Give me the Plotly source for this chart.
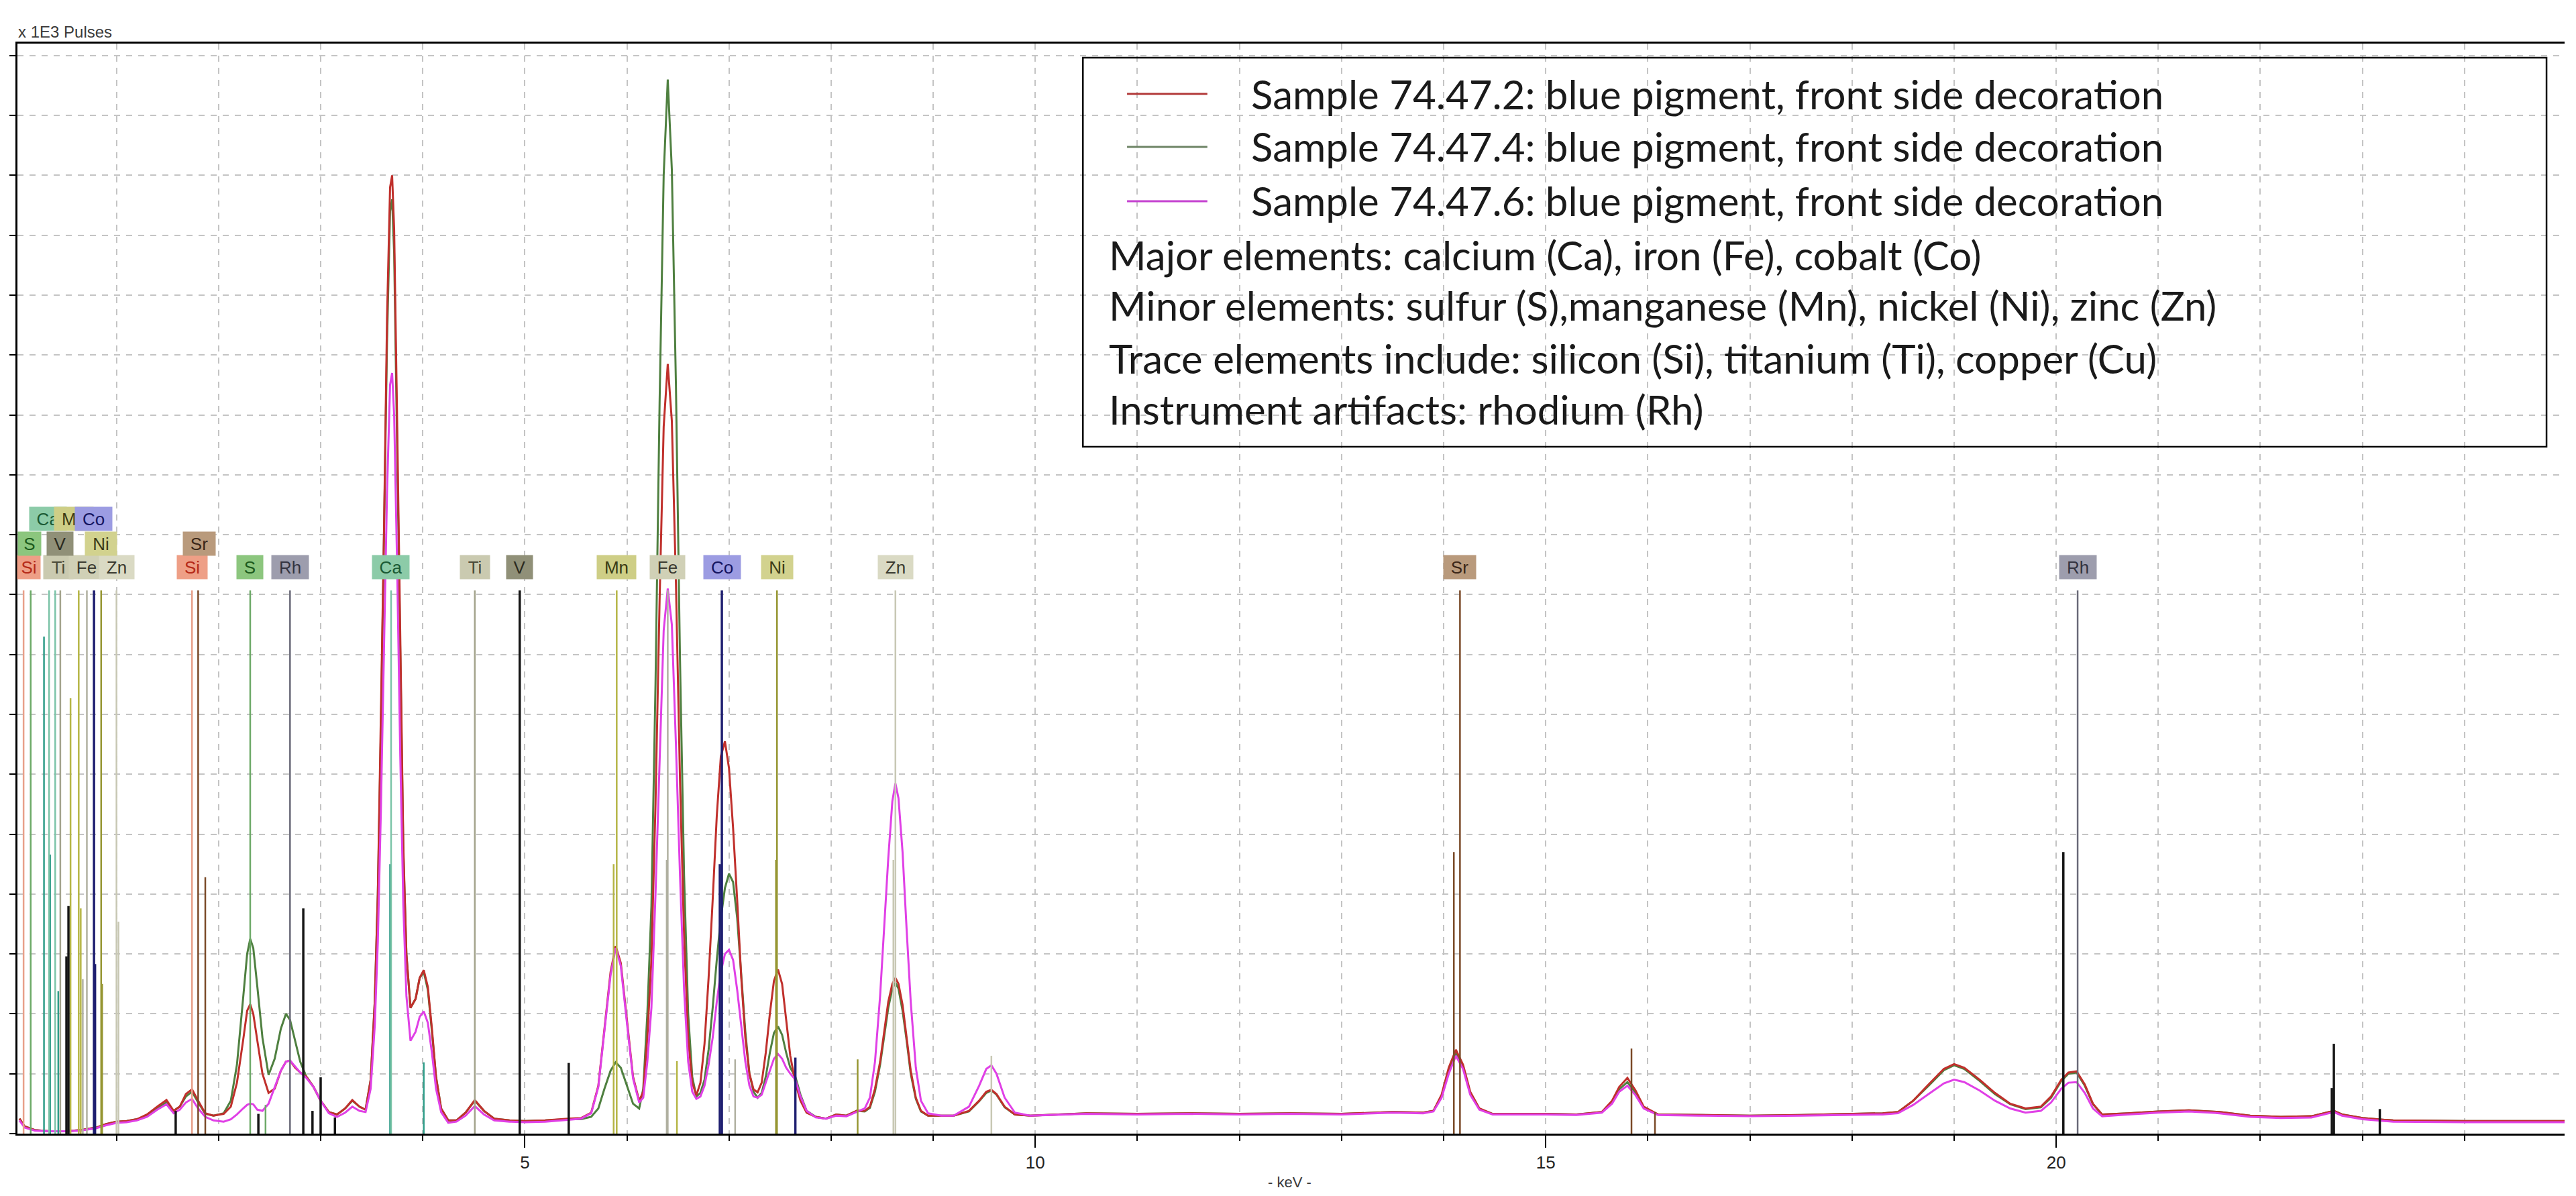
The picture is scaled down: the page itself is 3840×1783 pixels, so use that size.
import plotly.graph_objects as go

# ---------------- data ----------------
# energy axis in keV, intensity in x 1E3 pulses (grid units)
energy_keV = [0.05, 0.10, 0.20, 0.35, 0.50, 0.65, 0.80, 0.90, 1.00, 1.10, 1.20, 1.30, 1.40, 1.49, 1.56, 1.62, 1.68, 1.74, 1.80, 1.87,
              1.95, 2.05, 2.12, 2.18, 2.24, 2.28, 2.31, 2.34, 2.38, 2.43, 2.49, 2.55, 2.61, 2.66, 2.70, 2.75, 2.80, 2.86, 2.93, 3.00,
              3.08, 3.16, 3.24, 3.31, 3.38, 3.44, 3.49, 3.53, 3.56, 3.59, 3.62, 3.65, 3.68, 3.70, 3.72, 3.75, 3.78, 3.81, 3.84, 3.88,
              3.93, 3.97, 4.01, 4.05, 4.09, 4.13, 4.18, 4.25, 4.33, 4.42, 4.51, 4.60, 4.70, 4.85, 5.00, 5.20, 5.42, 5.55, 5.65, 5.72,
              5.78, 5.84, 5.89, 5.94, 6.00, 6.06, 6.12, 6.16, 6.20, 6.24, 6.28, 6.32, 6.36, 6.40, 6.44, 6.48, 6.52, 6.56, 6.60, 6.64,
              6.68, 6.72, 6.76, 6.80, 6.84, 6.88, 6.92, 6.96, 7.00, 7.04, 7.08, 7.12, 7.16, 7.20, 7.24, 7.28, 7.32, 7.36, 7.40, 7.44,
              7.48, 7.52, 7.56, 7.60, 7.65, 7.70, 7.76, 7.85, 7.95, 8.05, 8.15, 8.25, 8.33, 8.38, 8.43, 8.48, 8.52, 8.56, 8.60, 8.63,
              8.66, 8.70, 8.74, 8.78, 8.83, 8.88, 8.95, 9.08, 9.20, 9.35, 9.45, 9.52, 9.57, 9.62, 9.70, 9.80, 9.95, 10.5, 11.0, 11.5,
              12.0, 12.5, 13.0, 13.5, 13.8, 13.90, 13.98, 14.05, 14.12, 14.19, 14.26, 14.35, 14.48, 15.0, 15.3, 15.55, 15.65, 15.72, 15.80, 15.88,
              15.96, 16.10, 16.5, 17.0, 17.5, 18.0, 18.3, 18.45, 18.60, 18.75, 18.90, 19.00, 19.10, 19.25, 19.40, 19.55, 19.70, 19.85, 19.95, 20.05,
              20.12, 20.20, 20.28, 20.36, 20.45, 20.7, 21.0, 21.3, 21.6, 21.9, 22.2, 22.5, 22.65, 22.72, 22.8, 23.0, 23.3, 24.0, 25.0]

sample_74_47_2 = [0.25, 0.12, 0.06, 0.04, 0.04, 0.06, 0.10, 0.16, 0.20, 0.21, 0.24, 0.32, 0.45, 0.56, 0.38, 0.45, 0.66, 0.74, 0.55, 0.34,
                  0.30, 0.33, 0.45, 0.85, 1.55, 2.05, 2.16, 2.00, 1.55, 1.00, 0.68, 0.75, 1.05, 1.20, 1.22, 1.10, 1.02, 0.95, 0.78, 0.55,
                  0.36, 0.32, 0.42, 0.56, 0.45, 0.40, 0.90, 2.20, 4.00, 6.80, 10.0, 13.6, 15.8, 16.0, 15.1, 11.8, 8.00, 4.80, 3.00, 2.10,
                  2.25, 2.60, 2.73, 2.45, 1.75, 0.95, 0.42, 0.22, 0.22, 0.35, 0.56, 0.38, 0.25, 0.22, 0.21, 0.22, 0.25, 0.26, 0.35, 0.80,
                  1.75, 2.70, 3.13, 2.85, 1.90, 0.95, 0.55, 0.70, 1.60, 2.90, 5.50, 8.90, 11.8, 12.85, 11.9, 9.20, 5.90, 3.30, 1.60, 0.85,
                  0.64, 0.85, 1.50, 2.60, 3.90, 5.30, 6.30, 6.55, 6.10, 5.10, 3.90, 2.60, 1.60, 1.00, 0.74, 0.69, 0.85, 1.35, 2.00, 2.55,
                  2.74, 2.50, 1.90, 1.30, 0.85, 0.55, 0.35, 0.28, 0.25, 0.32, 0.30, 0.38, 0.38, 0.45, 0.75, 1.20, 1.70, 2.20, 2.50, 2.60,
                  2.50, 2.15, 1.60, 1.05, 0.60, 0.38, 0.30, 0.30, 0.30, 0.38, 0.55, 0.70, 0.73, 0.66, 0.45, 0.32, 0.30, 0.34, 0.33, 0.34,
                  0.33, 0.34, 0.33, 0.36, 0.35, 0.38, 0.65, 1.10, 1.40, 1.15, 0.70, 0.42, 0.33, 0.33, 0.32, 0.36, 0.55, 0.78, 0.93, 0.72,
                  0.45, 0.32, 0.31, 0.30, 0.31, 0.33, 0.34, 0.36, 0.55, 0.82, 1.08, 1.16, 1.10, 0.90, 0.68, 0.50, 0.42, 0.45, 0.62, 0.90,
                  1.02, 1.04, 0.82, 0.50, 0.32, 0.34, 0.37, 0.39, 0.36, 0.30, 0.28, 0.29, 0.35, 0.38, 0.32, 0.26, 0.22, 0.21, 0.21]

sample_74_47_4 = [0.25, 0.12, 0.06, 0.04, 0.04, 0.06, 0.10, 0.16, 0.20, 0.21, 0.24, 0.30, 0.42, 0.52, 0.38, 0.45, 0.62, 0.70, 0.52, 0.33,
                  0.30, 0.34, 0.55, 1.15, 2.25, 3.00, 3.25, 3.10, 2.45, 1.60, 0.98, 1.25, 1.75, 2.00, 1.90, 1.55, 1.20, 0.95, 0.78, 0.55,
                  0.36, 0.32, 0.42, 0.55, 0.45, 0.40, 0.90, 2.20, 4.00, 6.70, 9.80, 13.2, 15.4, 15.6, 14.7, 11.5, 7.80, 4.70, 3.00, 2.10,
                  2.25, 2.60, 2.70, 2.40, 1.70, 0.95, 0.42, 0.22, 0.22, 0.35, 0.55, 0.38, 0.25, 0.22, 0.21, 0.22, 0.24, 0.24, 0.28, 0.42,
                  0.75, 1.05, 1.19, 1.10, 0.80, 0.50, 0.42, 0.75, 2.00, 3.80, 7.50, 12.2, 16.0, 17.6, 16.1, 12.5, 7.90, 4.30, 2.00, 0.95,
                  0.62, 0.68, 0.90, 1.40, 2.10, 2.90, 3.60, 4.10, 4.34, 4.20, 3.60, 2.70, 1.70, 1.00, 0.70, 0.60, 0.68, 0.95, 1.35, 1.68,
                  1.79, 1.65, 1.35, 1.10, 0.95, 0.65, 0.38, 0.28, 0.25, 0.32, 0.30, 0.38, 0.37, 0.43, 0.70, 1.15, 1.62, 2.10, 2.42, 2.52,
                  2.42, 2.05, 1.55, 1.00, 0.58, 0.37, 0.30, 0.30, 0.30, 0.37, 0.54, 0.68, 0.72, 0.65, 0.44, 0.32, 0.30, 0.34, 0.33, 0.34,
                  0.33, 0.34, 0.33, 0.36, 0.35, 0.38, 0.63, 1.05, 1.35, 1.12, 0.68, 0.41, 0.33, 0.33, 0.32, 0.36, 0.53, 0.74, 0.86, 0.68,
                  0.43, 0.32, 0.31, 0.30, 0.31, 0.33, 0.34, 0.36, 0.55, 0.80, 1.06, 1.14, 1.08, 0.88, 0.66, 0.49, 0.41, 0.44, 0.60, 0.88,
                  1.00, 1.02, 0.80, 0.49, 0.32, 0.34, 0.37, 0.39, 0.36, 0.30, 0.28, 0.29, 0.35, 0.38, 0.32, 0.26, 0.22, 0.21, 0.21]

sample_74_47_6 = [0.22, 0.10, 0.05, 0.04, 0.04, 0.05, 0.09, 0.14, 0.18, 0.19, 0.22, 0.28, 0.40, 0.49, 0.34, 0.40, 0.52, 0.58, 0.42, 0.28,
                  0.22, 0.20, 0.24, 0.32, 0.42, 0.48, 0.50, 0.49, 0.40, 0.38, 0.50, 0.78, 1.05, 1.20, 1.22, 1.12, 1.02, 0.93, 0.78, 0.55,
                  0.34, 0.28, 0.35, 0.45, 0.38, 0.36, 0.75, 1.80, 3.20, 5.40, 7.90, 10.7, 12.5, 12.7, 12.0, 9.40, 6.30, 3.80, 2.30, 1.55,
                  1.70, 1.95, 2.04, 1.85, 1.35, 0.75, 0.36, 0.18, 0.20, 0.30, 0.46, 0.32, 0.22, 0.20, 0.19, 0.20, 0.23, 0.25, 0.34, 0.78,
                  1.72, 2.65, 3.10, 2.80, 1.85, 0.92, 0.52, 0.60, 1.20, 2.10, 4.00, 6.30, 8.40, 9.10, 8.50, 6.50, 4.30, 2.40, 1.20, 0.70,
                  0.58, 0.62, 0.80, 1.15, 1.60, 2.20, 2.70, 3.00, 3.07, 2.90, 2.40, 1.80, 1.20, 0.80, 0.62, 0.60, 0.65, 0.85, 1.05, 1.25,
                  1.33, 1.25, 1.10, 1.00, 0.90, 0.62, 0.38, 0.27, 0.25, 0.30, 0.29, 0.36, 0.42, 0.60, 1.20, 2.30, 3.40, 4.60, 5.55, 5.85,
                  5.60, 4.70, 3.40, 2.20, 1.10, 0.55, 0.34, 0.30, 0.30, 0.45, 0.80, 1.08, 1.14, 1.00, 0.60, 0.35, 0.30, 0.33, 0.32, 0.33,
                  0.32, 0.33, 0.32, 0.35, 0.34, 0.37, 0.60, 1.00, 1.30, 1.08, 0.65, 0.40, 0.32, 0.32, 0.31, 0.35, 0.50, 0.70, 0.80, 0.64,
                  0.42, 0.31, 0.30, 0.29, 0.30, 0.31, 0.32, 0.34, 0.48, 0.66, 0.84, 0.90, 0.86, 0.72, 0.55, 0.42, 0.35, 0.38, 0.52, 0.75,
                  0.85, 0.86, 0.68, 0.42, 0.29, 0.32, 0.35, 0.37, 0.34, 0.28, 0.26, 0.27, 0.33, 0.36, 0.30, 0.24, 0.20, 0.19, 0.19]

# element marker lines: energy (keV), height (x 1E3 pulses), element style key
marker_keV = [0.09, 0.16, 0.29, 0.34, 0.35, 0.40, 0.43, 0.45, 0.51, 0.53, 0.55, 0.63, 0.65, 0.67, 0.71, 0.78, 0.79, 0.85, 0.86, 1.00,
              1.02, 1.58, 1.74, 1.80, 1.87, 2.31, 2.39, 2.46, 2.70, 2.83, 2.92, 3.00, 3.14, 3.68, 3.69, 4.01, 4.51, 4.95, 5.43, 5.87,
              5.90, 6.39, 6.40, 6.49, 6.91, 6.93, 7.06, 7.46, 7.47, 7.65, 8.26, 8.61, 8.63, 9.57, 14.10, 14.16, 15.84, 16.07, 20.07, 20.21,
              22.70, 22.72, 23.17]
marker_height = [9.07, 9.07, 8.30, 9.07, 4.66, 9.07, 2.38, 9.07, 2.96, 3.80, 7.27, 9.07, 3.76, 2.58, 9.07, 9.07, 2.83, 9.07, 2.50, 9.07,
                 3.54, 0.38, 9.07, 9.07, 4.28, 9.07, 0.33, 0.48, 9.07, 3.76, 0.38, 0.94, 0.27, 4.50, 9.07, 1.19, 9.07, 9.07, 1.18, 4.50,
                 9.07, 4.57, 9.07, 1.21, 4.50, 9.07, 1.24, 4.57, 9.07, 1.27, 1.24, 4.57, 9.07, 1.30, 4.70, 9.07, 1.42, 0.36, 4.70, 9.07,
                 0.76, 1.50, 0.41]
marker_elem = ["Si", "S", "Ca2", "Ca", "Ca2", "Ca", "Ca2", "Ti", "k", "k", "Mn", "Mn", "Mn", "Fe", "Fe", "Co", "Co", "Ni", "Ni", "Zn",
               "Zn", "k", "Si", "Sr", "Sr", "S", "k", "S", "Rh", "k", "k", "k", "k", "Ca2", "Ca", "Ca2", "Ti", "k", "k", "Mn",
               "Mn", "Fe", "Fe", "Mn", "Co", "Co", "Fe", "Ni", "Ni", "Co", "Ni", "Zn", "Zn", "Zn", "Sr", "Sr", "Sr", "Sr", "k", "Rh",
               "k", "k", "k"]

# element label boxes: text, energy (keV), stacking row
label_text = ["Si", "Ti", "Fe", "Zn", "S", "V", "Ni", "Ca", "Mn", "Co", "Si", "Sr", "S", "Rh", "Ca", "Ti", "V", "Mn", "Fe", "Co",
              "Ni", "Zn", "Sr", "Rh"]
label_keV = [0.14, 0.43, 0.71, 1.00, 0.15, 0.45, 0.85, 0.33, 0.58, 0.775, 1.74, 1.81, 2.31, 2.70, 3.69, 4.51, 4.95, 5.90, 6.40, 6.93,
             7.47, 8.63, 14.16, 20.21]
label_row = [0, 0, 0, 0, 1, 1, 1, 2, 2, 2, 0, 1, 0, 0, 0, 0, 0, 0, 0, 0,
             0, 0, 0, 0]

series_names = ["Sample 74.47.2: blue pigment, front side decoration",
                "Sample 74.47.4: blue pigment, front side decoration",
                "Sample 74.47.6: blue pigment, front side decoration"]
note_lines = ["Major elements: calcium (Ca), iron (Fe), cobalt (Co)",
              "Minor elements: sulfur (S),manganese (Mn), nickel (Ni), zinc (Zn)",
              "Trace elements include: silicon (Si), titanium (Ti), copper (Cu)",
              "Instrument artifacts: rhodium (Rh)"]

# ---------------- layout geometry (page pixels) ----------------
PAGE_W, PAGE_H = 3840, 1783
BODY = 8                      # default browser body margin around the plot div
PL, PR, PT, PB = 17, 3823, 65, 1690   # plot area edges on the page
W, H = PAGE_W - BODY, PAGE_H - BODY
ML, MT = PL - BODY, PT - BODY
MR, MB = BODY + W - PR, BODY + H - PB
PW, PH = PR - PL, PB - PT


def px(x):
    return (x - PL) / PW


def py(y):
    return (PB - y) / PH


SERIES_COLORS = ["#C0302C", "#4F8040", "#E040E6"]
LEGEND_COLORS = ["#B23A3A", "#6E8466", "#C440D0"]
LINE_COLORS = {"Si": "#E8A08A", "S": "#6DAA68", "Ca": "#7CC4A8", "Ca2": "#2E9C88", "Ti": "#A3A38C",
               "k": "#151515", "Mn": "#B5B545", "Fe": "#B0B0A0", "Co": "#1E1E70", "Ni": "#969632",
               "Zn": "#C8C8B4", "Sr": "#7A4A28", "Rh": "#6A6A78"}
LABEL_STYLE = {"Si": ("#EE9F86", "#B52A18"), "S": ("#8CC67E", "#1C5A1C"), "Rh": ("#9D9DAD", "#333340"),
               "Ca": ("#8CCBA8", "#1A5A34"), "Ti": ("#CACAB0", "#4A4A38"), "V": ("#909078", "#2A2A20"),
               "Mn": ("#CECE86", "#3A3A14"), "Fe": ("#D0D0B6", "#3A3A30"), "Co": ("#9C9CE2", "#141460"),
               "Ni": ("#D2D28E", "#3A3A18"), "Zn": ("#DADAC4", "#3A3A30"), "Sr": ("#B99A7C", "#3A2618")}
ROW_Y = [9.46, 9.85, 10.26]
CHAR_W = {"S": 17, "i": 6, "T": 16, "F": 16, "e": 14, "Z": 16, "n": 14, "V": 17, "N": 19, "C": 19,
          "a": 14, "M": 22, "o": 14, "r": 9, "R": 19, "h": 14}
TEXT_FONT = "Lato"

fig = go.Figure()

# spectra
for vals, name, col in [(sample_74_47_4, series_names[1], SERIES_COLORS[1]),
                        (sample_74_47_2, series_names[0], SERIES_COLORS[0]),
                        (sample_74_47_6, series_names[2], SERIES_COLORS[2])]:
    fig.add_trace(go.Scatter(x=energy_keV, y=vals, mode="lines", name=name,
                             line=dict(color=col, width=3), showlegend=False, hoverinfo="skip"))

# element marker lines grouped by style
groups = {}
for e, h, k in zip(marker_keV, marker_height, marker_elem):
    gx, gy = groups.setdefault(k, ([], []))
    gx += [e, e, None]
    gy += [0, h, None]
for k, (gx, gy) in groups.items():
    fig.add_trace(go.Scatter(x=gx, y=gy, mode="lines", showlegend=False, hoverinfo="skip",
                             line=dict(color=LINE_COLORS[k], width=3.5 if k in ("k", "Co") else 2.5)))

annotations = []
for t, e, r in zip(label_text, label_keV, label_row):
    bg, fg = LABEL_STYLE[t]
    tw = sum(CHAR_W.get(c, 14) for c in t)
    w = tw + 18
    if e < 0.2:
        w = 30
    annotations.append(dict(x=e, y=ROW_Y[r], xref="x", yref="y", text=t, showarrow=False,
                            xanchor="center", yanchor="middle", bgcolor=bg, width=w, height=31,
                            borderpad=2, font=dict(family="Liberation Sans, Arial", size=26, color=fg)))

# axis captions
annotations.append(dict(x=px(16), y=py(48), xref="paper", yref="paper", text="x 1E3 Pulses",
                        showarrow=False, xanchor="left", yanchor="middle",
                        font=dict(family="Liberation Sans, Arial", size=24, color="#3a3a3a")))
annotations.append(dict(x=px(1918), y=py(1763), xref="paper", yref="paper", text="- keV -",
                        showarrow=False, xanchor="center", yanchor="middle",
                        font=dict(family="Liberation Sans, Arial", size=22, color="#3a3a3a")))

# legend / notes box
shapes = [dict(type="rect", xref="paper", yref="paper", x0=px(1609), x1=px(3796), y0=py(666), y1=py(86),
               line=dict(color="black", width=2.5), fillcolor="rgba(0,0,0,0)")]
leg_line_y = [140, 219, 300]
leg_text_y = [140, 218, 299]
for ly, ty, col, name in zip(leg_line_y, leg_text_y, LEGEND_COLORS, series_names):
    shapes.append(dict(type="line", xref="paper", yref="paper", x0=px(1675), x1=px(1795), y0=py(ly), y1=py(ly),
                       line=dict(color=col, width=3)))
    annotations.append(dict(x=px(1858), y=py(ty), xref="paper", yref="paper", text=name, showarrow=False,
                            xanchor="left", yanchor="middle", font=dict(family=TEXT_FONT, size=60, color="#1a1a1a")))
for yy, line in zip([380, 455, 534, 610], note_lines):
    annotations.append(dict(x=px(1646), y=py(yy), xref="paper", yref="paper", text=line, showarrow=False,
                            xanchor="left", yanchor="middle", font=dict(family=TEXT_FONT, size=60, color="#1a1a1a")))

GRID = "#C4C4C4"
fig.update_layout(
    width=W, height=H, margin=dict(l=ML, r=MR, t=MT, b=MB, pad=0),
    paper_bgcolor="white", plot_bgcolor="white", showlegend=False,
    annotations=annotations, shapes=shapes,
    xaxis=dict(range=[0.03, 24.98], tick0=0, dtick=5, ticks="outside", ticklen=18, tickwidth=2, tickcolor="black",
               showline=True, linecolor="black", linewidth=3, mirror=True, zeroline=False,
               showgrid=True, gridcolor=GRID, gridwidth=1.5, griddash="dash",
               tickfont=dict(family="Liberation Sans, Arial", size=26, color="#222"),
               minor=dict(dtick=1, tick0=0, ticks="outside", ticklen=8, tickwidth=2, tickcolor="black",
                          showgrid=True, gridcolor=GRID, gridwidth=1.5, griddash="dash")),
    yaxis=dict(range=[0, 18.2], tick0=0, dtick=1, ticks="outside", ticklen=9, tickwidth=2, tickcolor="black",
               showticklabels=False, showline=True, linecolor="black", linewidth=3, mirror=False,
               zeroline=False, showgrid=True, gridcolor=GRID, gridwidth=1.5, griddash="dash"),
)

fig.write_html("out.html")
